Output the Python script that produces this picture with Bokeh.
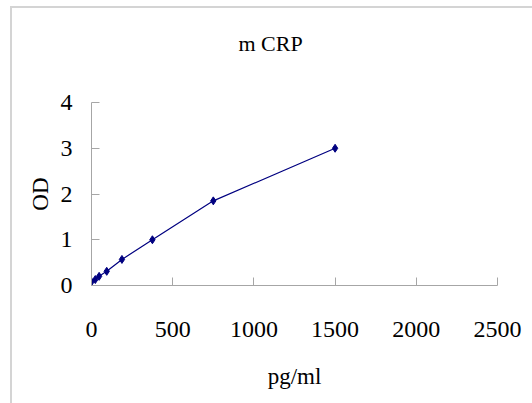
from bokeh.plotting import figure
from bokeh.models import Range1d, FixedTicker, ColumnDataSource, Title
from bokeh.embed import file_html
from bokeh.resources import INLINE

title_text = "m CRP"
conc = [0, 23.4, 46.9, 93.75, 187.5, 375, 750, 1500]
od = [0.08, 0.13, 0.2, 0.31, 0.57, 1.0, 1.85, 3.0]
x_ticks = [0, 500, 1000, 1500, 2000, 2500]
y_ticks = [0, 1, 2, 3, 4]

FONT = "Liberation Serif"
AXIS_COL = "#a6a6a6"
NAVY = "#000080"

p = figure(width=532, height=403, output_backend="svg", toolbar_location=None, title=None,
           x_range=Range1d(0, 2500), y_range=Range1d(0, 4),
           min_border_left=91, min_border_right=35, min_border_top=102, min_border_bottom=118)

# empty spacer panel between the plot frame and the title (nearest to the frame)
p.add_layout(Title(text=" ", text_font=FONT, text_font_size="22px", standoff=20), "above")
# the chart title, one panel further out
p.add_layout(Title(text=title_text, text_font=FONT, text_font_size="22px",
                   text_font_style="normal", text_color="black",
                   align="left", offset=147, standoff=0), "above")

src = ColumnDataSource(dict(x=conc, y=od))
p.line("x", "y", source=src, line_color=NAVY, line_width=1.2)
p.scatter("x", "y", source=src, marker="diamond", size=8, fill_color=NAVY, line_color=NAVY)

p.xgrid.visible = False
p.ygrid.visible = False
p.outline_line_color = None
p.background_fill_color = "white"
p.border_fill_alpha = 0

# outer chart-area frame (light gray lines at the left and top), drawn behind the transparent canvas
p.styles = {
    "background-color": "white",
    "background-image": "linear-gradient(#d4d4d4, #d4d4d4), linear-gradient(#d4d4d4, #d4d4d4)",
    "background-size": "2px 100%, 100% 2px",
    "background-position": "10px 6px, 10px 6px",
    "background-repeat": "no-repeat",
}

for ax, ticks in ((p.xaxis[0], x_ticks), (p.yaxis[0], y_ticks)):
    ax.ticker = FixedTicker(ticks=ticks)
    ax.axis_line_color = AXIS_COL
    ax.major_tick_line_color = AXIS_COL
    ax.minor_tick_line_color = None
    ax.major_tick_out = 0
    ax.major_tick_in = 8
    ax.major_label_text_font = FONT
    ax.major_label_text_font_size = "24px"
    ax.major_label_text_color = "black"
    ax.axis_label_text_font = FONT
    ax.axis_label_text_font_size = "23px"
    ax.axis_label_text_font_style = "normal"
    ax.axis_label_text_color = "black"

p.xaxis.axis_label = "pg/ml"
p.yaxis.axis_label = "OD"
p.xaxis.major_label_standoff = 36
p.xaxis.axis_label_standoff = 24
p.yaxis.major_label_standoff = 19
p.yaxis.axis_label_standoff = 5

open("out.html", "w").write(file_html(p, INLINE))
